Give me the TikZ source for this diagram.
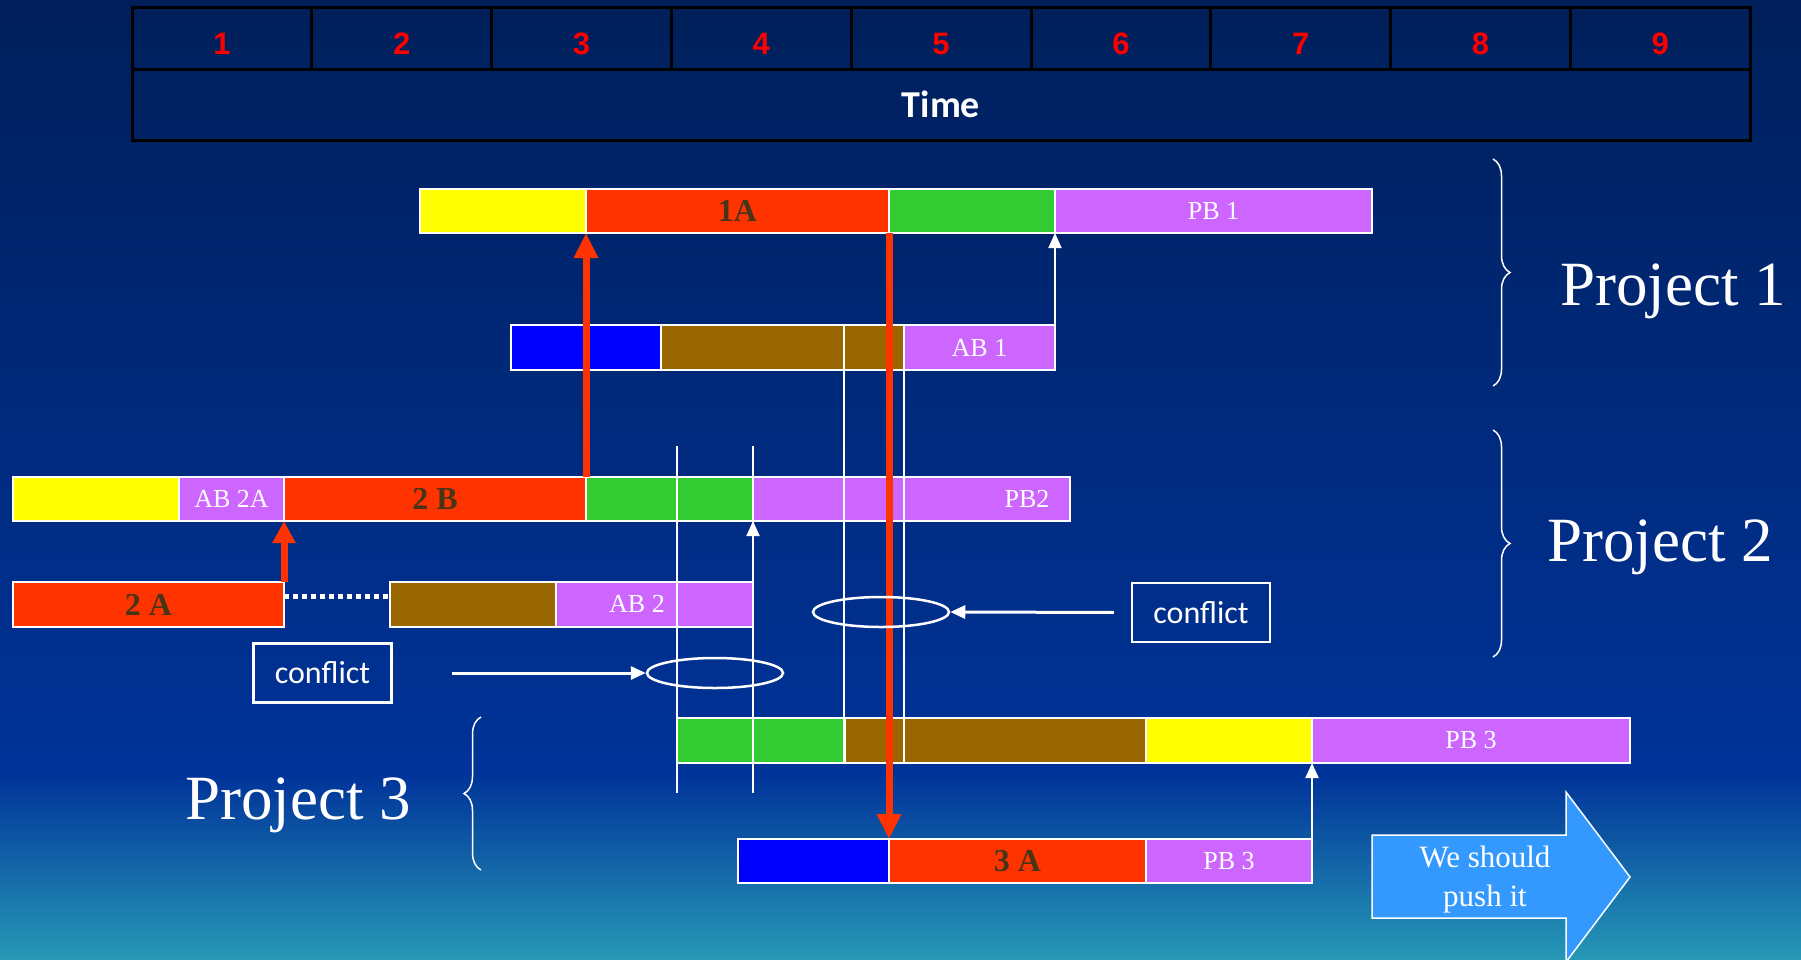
\documentclass[tikz,border=0pt]{standalone}
\usepackage{fontspec}
\setmainfont{Liberation Serif}
\newfontfamily\numfont{Liberation Sans}
\newfontfamily\calfont{Carlito}
\usepackage{xcolor}
\usetikzlibrary{arrows, arrows.meta}
\usetikzlibrary{positioning}
\usetikzlibrary{shapes.geometric}
\usetikzlibrary{decorations.pathreplacing}

\definecolor{bgtop}{RGB}{0,31,90}
\definecolor{bgmid}{RGB}{0,51,153}
\definecolor{bgbot}{RGB}{38,152,182}
\definecolor{barred}{RGB}{255,51,0}
\definecolor{baryellow}{RGB}{255,255,0}
\definecolor{bargreen}{RGB}{51,204,51}
\definecolor{barpurple}{RGB}{204,102,255}
\definecolor{barblue}{RGB}{0,0,255}
\definecolor{barbrown}{RGB}{153,102,0}
\definecolor{lbldark}{RGB}{72,52,22}
\definecolor{pushblue}{RGB}{51,153,255}

\newcommand{\dlbl}{\fontsize{32}{32}\selectfont\bfseries\color{lbldark}}
\newcommand{\wlbl}{\fontsize{26}{26}\selectfont\color{white}}
% one piece of a bar: name, left, right, top, bottom, colour, text
\newcommand{\segbox}[7]{%
  \node[seg, fill=#6, minimum width={(#3)-(#2)}, minimum height={(#5)-(#4)}]
    (#1) at ({((#2)+(#3))/2},{((#4)+(#5))/2}) {#7};}

\tikzset{
  seg/.style={draw=white, line width=2.5pt, inner sep=0pt, outer sep=0pt},
  cell/.style={draw=black, line width=3pt, minimum width=179.8pt, minimum height=62pt,
    inner sep=0pt, outer sep=0pt},
  numlbl/.style={inner sep=0pt, text=red, font=\numfont\bfseries\fontsize{31}{31}\selectfont},
  redarrow/.style={draw=barred, line width=7pt, -{Triangle[length=25pt,width=23pt]}},
  warrow/.style={draw=white, line width=2pt, -{Triangle[length=15pt,width=13pt]}},
  guide/.style={draw=white, line width=1.5pt},
  ring/.style={ellipse, draw=white, line width=2.5pt, minimum width=136pt,
    minimum height=30pt, inner sep=0pt},
  cbox/.style={draw=white, line width=2.5pt, minimum width=138pt, minimum height=59pt,
    inner sep=0pt, text=white, font=\calfont\fontsize{32}{32}\selectfont},
  projlbl/.style={anchor=base west, inner sep=0pt, text=white, font=\fontsize{63}{63}\selectfont},
  brc/.style={draw=white, line width=1.5pt, decorate, decoration={brace, amplitude=17pt}}
}

\begin{document}
\begin{tikzpicture}[x=1pt, y=-1pt]
  \useasboundingbox (0,0) rectangle (1801,959);
  % background
  \fill[top color=bgtop, bottom color=bgmid] (0,0) rectangle (1801,775);
  \fill[top color=bgmid, bottom color=bgbot] (0,774) rectangle (1801,959);

  % time table
  \foreach \i in {1,...,9} {
    \node[cell] (cell\i) at ({132+179.8*(\i-0.5)},38) {};
    \node[numlbl] (num\i) at ([yshift=-6pt]cell\i.center) {\i};
  }
  \node[draw=black, line width=3pt, minimum width=1618pt, minimum height=71pt, inner sep=0pt,
    text=white, font=\calfont\bfseries\fontsize{38}{38}\selectfont] (time) at (941,104.5) {Time};

  % project 1
  \segbox{p1y}{420}{586}{189}{233}{baryellow}{}
  \segbox{p1a}{586}{889}{189}{233}{barred}{\dlbl 1A}
  \segbox{p1g}{889}{1055}{189}{233}{bargreen}{}
  \segbox{p1pb}{1055}{1372}{189}{233}{barpurple}{\wlbl PB 1}
  \segbox{p1bl}{511}{661}{325}{370}{barblue}{}
  \segbox{p1br}{661}{904}{325}{370}{barbrown}{}
  \segbox{p1ab}{904}{1055}{325}{370}{barpurple}{\wlbl AB 1}

  % project 2
  \segbox{p2y}{13}{179}{477}{521}{baryellow}{}
  \segbox{p2ab}{179}{284}{477}{521}{barpurple}{\wlbl AB 2A}
  \segbox{p2b}{284}{586}{477}{521}{barred}{\dlbl 2 B}
  \segbox{p2g}{586}{753}{477}{521}{bargreen}{}
  \segbox{p2pb}{753}{1070}{477}{521}{barpurple}{}
  \node[inner sep=0pt] (pb2txt) at (1027,499) {\wlbl PB2};
  \segbox{p2a}{13}{284}{582}{627}{barred}{\dlbl 2 A}
  \segbox{p2br}{390}{556}{582}{627}{barbrown}{}
  \segbox{p2ab2}{556}{753}{582}{627}{barpurple}{}
  \node[inner sep=0pt] (ab2txt) at (637,604) {\wlbl AB 2};
  \draw[white, line width=5pt, dash pattern=on 4.5pt off 4.5pt]
    ([yshift=8pt]p2a.east) -- ([yshift=8pt]p2br.west);

  % project 3
  \segbox{p3g}{677}{845}{718}{763}{bargreen}{}
  \segbox{p3br}{845}{1146}{718}{763}{barbrown}{}
  \segbox{p3y}{1146}{1312}{718}{763}{baryellow}{}
  \segbox{p3pb}{1312}{1630}{718}{763}{barpurple}{\wlbl PB 3}
  \segbox{p3bl}{738}{889}{839}{883}{barblue}{}
  \segbox{p3a}{889}{1146}{839}{883}{barred}{\dlbl 3 A}
  \segbox{p3pb2}{1146}{1312}{839}{883}{barpurple}{\wlbl PB 3}

  % guide lines
  \foreach \n/\x/\ya/\yb in {v1/677/446/793, v2/753/446/793, v3/844/325/763, v4/904/325/763} {
    \coordinate (\n t) at (\x,\ya);
    \coordinate (\n b) at (\x,\yb);
    \draw[guide] (\n t) -- (\n b);
  }

  % links
  \draw[redarrow] (p2b.north east) -- (p1a.south west);
  \draw[redarrow] (p1a.south east) -- (p3a.north west);
  \draw[draw=barred, line width=7pt, -{Triangle[length=22pt,width=22pt]}] (p2a.north east) -- (p2ab.south east);
  \draw[warrow] (p1ab.north east) -- (p1pb.south west);
  \draw[warrow] (p2ab2.north east) -- (p2pb.south west);
  \draw[warrow] (p3pb2.north east) -- (p3pb.south west);

  % conflicts
  \node[ring] (c1) at (881,612) {};
  \node[ring] (c2) at (715,673) {};
  \node[cbox] (cf1) at (1201,612.5) {conflict};
  \node[cbox] (cf2) at (322.5,673) {conflict};
  \draw[warrow, line width=3pt, shorten <=17pt] (cf1.west) -- (c1.east);
  \draw[warrow, line width=3pt, shorten <=59pt] (cf2.east) -- (c2.west);

  % project labels
  \draw[brc] (1493,159) -- (1493,386);
  \draw[brc] (1493,430) -- (1493,657);
  \draw[brc] (481,870) -- (481,717);
  \node[projlbl] (proj1) at (1560,305) {Project 1};
  \node[projlbl] (proj2) at (1547,561) {Project 2};
  \node[projlbl] (proj3) at (185,819) {Project 3};

  % push arrow
  \filldraw[fill=pushblue, draw=white, line width=1.5pt]
    (1372,835) -- (1566,835) -- (1566,792) -- (1630,877) -- (1566,962)
    -- (1566,918) -- (1372,918) -- cycle;
  \node[align=center, inner sep=0pt, text=white, font=\fontsize{31}{39}\selectfont]
    (push) at (1485,880) {We should\\push it};
\end{tikzpicture}
\end{document}
